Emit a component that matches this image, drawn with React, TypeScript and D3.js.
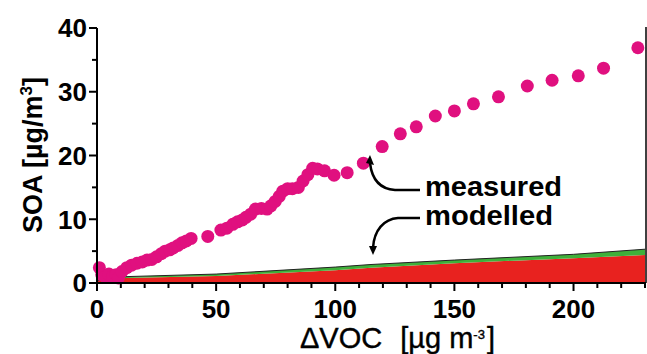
import React from "react";
import * as d3 from "d3";

const measX = [1, 2, 3.5, 5, 6.5, 8, 9, 10.5, 12.5, 14.5, 16.8, 19, 21, 23, 25, 27, 28.6, 30.5, 32, 34, 35.7, 37.5, 39.5, 46.5, 52, 54.5, 57, 59, 61, 62.5, 64.5, 66.5, 69, 71.4, 73, 74.8, 76.5, 78, 80, 82, 84.5, 86.5, 88.5, 90.5, 92.5, 95.5, 99.5, 105, 111.8, 119.7, 127.3, 134, 142, 150, 158, 168.5, 180.6, 191, 202, 212.6, 227];
const measY = [2.4, 1.3, 1.0, 1.4, 1.0, 1.3, 0.8, 1.8, 2.4, 2.8, 3.1, 3.3, 3.6, 3.7, 4.1, 4.6, 5.0, 5.2, 5.5, 5.9, 6.3, 6.6, 7.0, 7.3, 8.3, 8.6, 9.2, 9.6, 9.9, 10.3, 10.8, 11.6, 11.7, 11.6, 12.1, 12.8, 13.6, 14.4, 14.8, 14.8, 15.0, 16.0, 17.0, 18.0, 17.9, 17.6, 16.9, 17.3, 18.8, 21.4, 23.4, 24.5, 26.2, 27.0, 28.1, 29.2, 30.9, 31.8, 32.5, 33.7, 36.9];

const modelX = [0, 12, 50, 100, 115, 150, 200, 230];
const modelRed = [0.3, 0.8, 1.1, 2.0, 2.4, 3.1, 3.9, 4.4];
const modelTotal = [0.4, 1.0, 1.4, 2.5, 2.9, 3.6, 4.5, 5.3];

const xMajor = [0, 50, 100, 150, 200];
const yMajor = [0, 10, 20, 30, 40];

export default function App() {
  const W = 647, H = 354;
  const left = 97, right = 645, top = 28, bottom = 283;
  const x = d3.scaleLinear().domain([0, 230]).range([left, right]);
  const y = d3.scaleLinear().domain([0, 40]).range([bottom, top]);
  const xMinor = d3.range(10, 231, 10).filter(v => v % 50 !== 0);
  const yMinor = [5, 15, 25, 35];
  const idx = modelX.map((_, i) => i);
  const redArea = d3.area<number>().x(i => x(modelX[i])).y0(y(0)).y1(i => y(modelRed[i]))(idx) || "";
  const greenArea = d3.area<number>().x(i => x(modelX[i])).y0(i => y(modelRed[i])).y1(i => y(modelTotal[i]))(idx) || "";
  const topLine = d3.line<number>().x(i => x(modelX[i])).y(i => y(modelTotal[i]))(idx) || "";
  const font = "'Liberation Sans', Arial, sans-serif";
  return (
    <svg width={W} height={H} style={{ position: "absolute", left: 0, top: 0 }} fontFamily={font}>
      <rect width={W} height={H} fill="#fff" />
      <path d={redArea} fill="#e8221f" />
      <path d={greenArea} fill="#3fb03a" />
      <path d={topLine} fill="none" stroke="#222" strokeWidth={1} />
      {measX.map((v, i) => (
        <circle key={i} cx={x(v)} cy={y(measY[i])} r={6.5} fill="#e0107f" />
      ))}
      {/* axes */}
      <line x1={left} x2={left} y1={top} y2={bottom + 1} stroke="#000" strokeWidth={2} />
      <line x1={left - 1} x2={right + 1} y1={bottom} y2={bottom} stroke="#000" strokeWidth={2} />
      <line x1={right + 1} x2={right + 1} y1={top - 1} y2={bottom} stroke="#000" strokeWidth={1.5} />
      {yMajor.map(v => (
        <g key={"ym" + v}>
          <line x1={left - 8} x2={left} y1={y(v)} y2={y(v)} stroke="#000" strokeWidth={2} />
          <text x={left - 10} y={y(v)} dy="0.36em" textAnchor="end" fontSize={26} fontWeight="bold">{v}</text>
        </g>
      ))}
      {yMinor.map(v => (
        <line key={"yn" + v} x1={left - 5} x2={left} y1={y(v)} y2={y(v)} stroke="#000" strokeWidth={2} />
      ))}
      {xMajor.map(v => (
        <g key={"xm" + v}>
          <line x1={x(v)} x2={x(v)} y1={bottom} y2={bottom + 8} stroke="#000" strokeWidth={2} />
          <text x={x(v)} y={318} textAnchor="middle" fontSize={26} fontWeight="bold">{v}</text>
        </g>
      ))}
      {xMinor.map(v => (
        <line key={"xn" + v} x1={x(v)} x2={x(v)} y1={bottom} y2={bottom + 5} stroke="#000" strokeWidth={2} />
      ))}
      {/* axis titles */}
      <text transform="translate(42,155) rotate(-90)" textAnchor="middle" fontSize={27} fontWeight="bold">
        SOA [µg/m<tspan dy="-10" fontSize={17}>3</tspan><tspan dy="10">]</tspan>
      </text>
      <text x={300} y={348} fontSize={29} stroke="#000" strokeWidth={0.4}>
        <tspan>ΔVOC</tspan>
        <tspan dx="18">[µg m</tspan>
        <tspan dy="-9" fontSize={13}>-3</tspan>
        <tspan dy="9" dx="2">]</tspan>
      </text>
      {/* annotations */}
      <text x={425} y={196} fontSize={27} fontWeight="bold" textLength={137} lengthAdjust="spacingAndGlyphs">measured</text>
      <text x={425} y={225} fontSize={27} fontWeight="bold" textLength={128} lengthAdjust="spacingAndGlyphs">modelled</text>
      <path d="M420,190 L395,190 C380,189 372,180 370,163" fill="none" stroke="#000" strokeWidth={2.5} />
      <path d="M366,163 L370,155 L374,165 Z" fill="#000" />
      <path d="M420,218 L398,218 C384,219 374,230 373,248" fill="none" stroke="#000" strokeWidth={2.5} />
      <path d="M369,246 L373,255 L377,246 Z" fill="#000" />
    </svg>
  );
}
